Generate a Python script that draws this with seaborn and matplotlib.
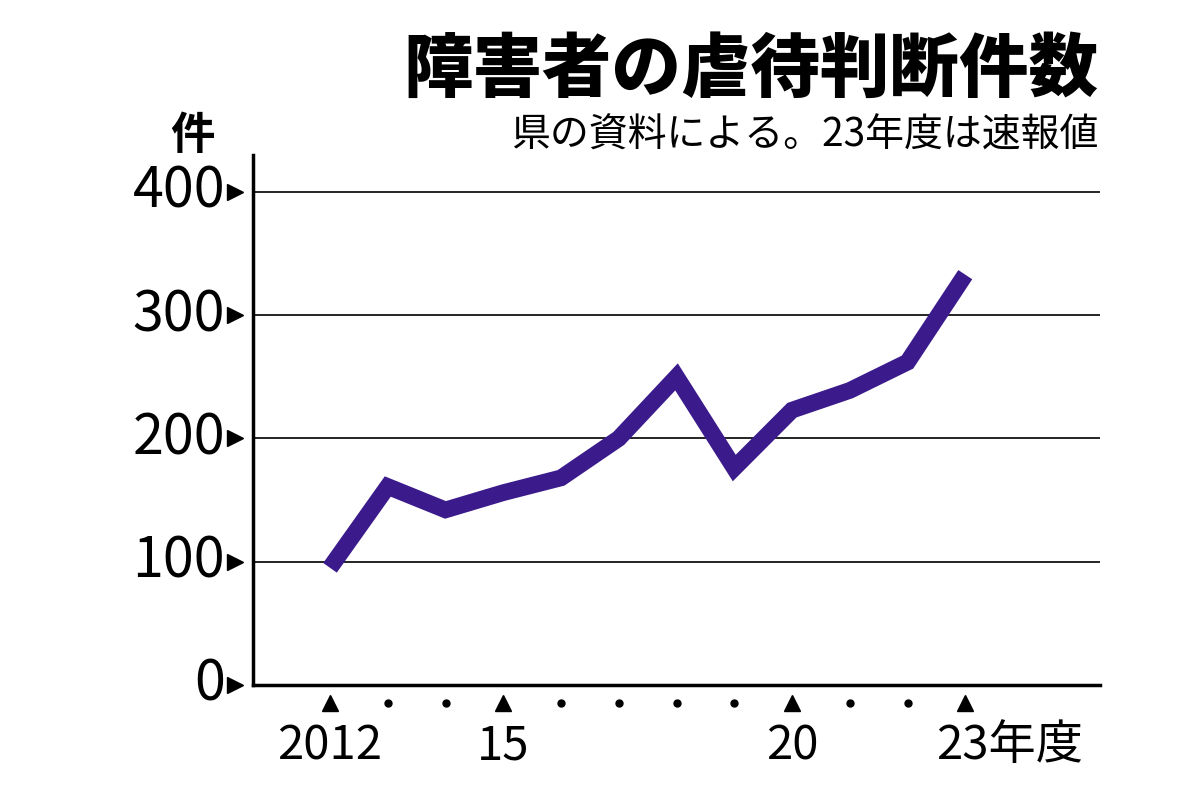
import matplotlib
matplotlib.use('Agg')
import matplotlib.pyplot as plt
import seaborn as sns
import pandas as pd

# values
years = [2012, 2013, 2014, 2015, 2016, 2017, 2018, 2019, 2020, 2021, 2022, 2023]
cases = [95, 161, 142, 156, 168, 200, 250, 176, 223, 239, 262, 333]
yticks = [0, 100, 200, 300, 400]
xlabels = {2012: '2012', 2015: '15', 2020: '20', 2023: '23年度'}

sns.set_style('white')
plt.rcParams['font.family'] = ['Noto Sans CJK JP', 'DejaVu Sans']
plt.rcParams['text.color'] = 'black'

df = pd.DataFrame({'year': years, 'cases': cases})

fig = plt.figure(figsize=(12, 8), dpi=100)
ax = fig.add_axes([0.211, 0.144, 0.706, 0.662])
for v in yticks[1:]:
    ax.axhline(v, color='black', lw=1.2, zorder=1)
sns.lineplot(data=df, x='year', y='cases', color='#3b1a8c', lw=12,
             solid_joinstyle='miter', solid_capstyle='butt', ax=ax, zorder=3)
ax.set_xlim(2010.67, 2025.34)
ax.set_ylim(0, 430)
for s in ['top', 'right']:
    ax.spines[s].set_visible(False)
for s in ['left', 'bottom']:
    ax.spines[s].set_linewidth(2.5)
    ax.spines[s].set_color('black')
ax.set_xticks([])
ax.set_yticks([])
ax.set_xlabel('')
ax.set_ylabel('')

# y tick markers and labels
tr_y = ax.get_yaxis_transform()
for v in yticks:
    ax.plot(-0.022, v, marker='>', ms=12, color='black', transform=tr_y, clip_on=False)
    ax.text(-0.033, v, str(v), transform=tr_y, ha='right', va='center',
            fontsize=40, color='black')

# x tick markers and labels
tr_x = ax.get_xaxis_transform()
for y in years:
    if y in xlabels:
        ax.plot(y, -0.035, marker='^', ms=12, color='black', transform=tr_x, clip_on=False)
        ax.text(y - 0.5 if y == 2023 else y, -0.07, xlabels[y], transform=tr_x,
                ha='left' if y == 2023 else 'center', va='top', fontsize=34, color='black')
    else:
        ax.plot(y, -0.035, marker='o', ms=5, color='black', transform=tr_x, clip_on=False)

fig.text(0.16, 0.83, '件', fontsize=32, fontweight='bold', ha='center', va='center')
fig.text(0.915, 0.912, '障害者の虐待判断件数', fontsize=50, fontweight='black', ha='right', va='center')
fig.text(0.915, 0.83, '県の資料による。23年度は速報値', fontsize=28, ha='right', va='center')

fig.savefig('out.png', dpi=100, facecolor='white')
